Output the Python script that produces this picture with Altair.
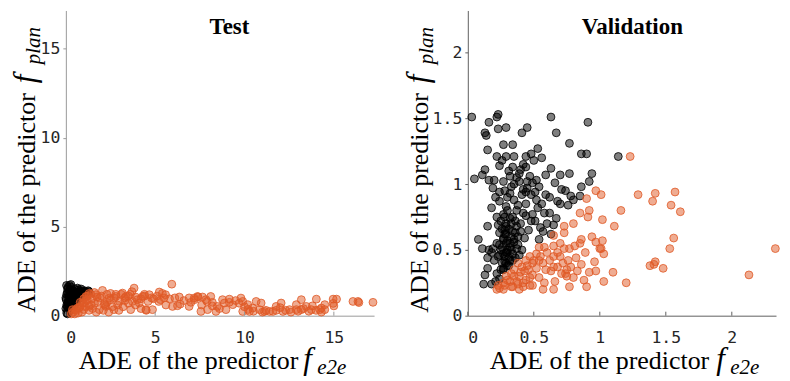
import altair as alt
import pandas as pd

# ---------------- data ----------------
# Test set: points where f_plan has the larger error (black)
test_plan_x = [0.05, 0.10, 0.20, 0.30, 0.50, 0.70, 0.90, 1.10, 0.15, 0.30, 0.50, 0.70, 0.90,
               0.05, 0.10, 0.15, 0.25, 0.35, 0.40, 0.60, 0.20, 0.05, 0.10, 0.30, 0.45, 0.60,
               0.80, 1.00, 0.02, 0.08, 0.25, 0.40, 0.60, 0.80, 0.30, 0.50, 0.20, 0.12, 0.18,
               0.35, 0.55, 0.75, 0.95, 1.15, 0.40, 0.00, 0.00, 0.04, 0.12, 0.22, 0.28, 0.65,
               0.85, 1.05, 0.10, 0.45, 0.15, 0.33, 0.07, 0.26, 1.25, 1.30]
test_plan_y = [1.20, 1.50, 1.70, 1.60, 1.50, 1.45, 1.40, 1.35, 0.90, 1.00, 1.10, 1.20, 1.25,
               0.60, 0.30, 0.50, 0.70, 0.60, 0.85, 0.90, 0.25, 0.15, 0.10, 0.45, 0.55, 0.75,
               1.00, 1.15, 0.90, 1.30, 1.30, 1.40, 1.30, 1.30, 1.20, 0.80, 0.55, 0.75, 1.10,
               0.95, 1.25, 1.35, 1.30, 1.30, 1.15, 1.00, 0.40, 1.70, 1.60, 1.45, 1.75, 1.55,
               1.50, 1.40, 0.70, 1.00, 1.25, 0.35, 0.50, 0.85, 1.40, 1.35]
# Test set: points where f_e2e has the larger error (orange)
test_e2e_x = [5.93, 3.82, 2.05, 5.23, 5.58, 6.35, 5.97, 7.00, 7.37, 7.65, 7.56, 8.20, 8.48, 9.15,
              9.80, 9.90, 10.18, 10.46, 10.84, 11.40, 11.77, 12.05, 12.52, 12.90, 13.18, 13.46,
              14.02, 14.30, 14.49, 14.96, 15.15, 16.07, 16.35, 17.19, 14.96, 10.93, 10.65, 9.34,
              8.87, 8.96, 8.40, 7.93, 6.90, 6.25, 4.85, 4.48, 3.63, 2.97, 2.69, 4.67, 4.30, 3.36,
              3.17, 2.80, 2.43, 1.68, 1.12, 0.93, 1.31, 0.65, 0.37, 1.87, 2.24, 3.73, 4.11, 9.90,
              10.28, 12.15, 13.74, 14.21, 14.49, 13.18, 12.90, 11.77, 11.12, 11.59, 9.15, 8.77,
              8.11, 7.84, 7.18, 5.30, 12.30, 12.60, 13.00, 13.30, 13.60, 14.00, 14.30, 13.80,
              12.00, 11.20, 11.00, 10.50, 10.20, 10.00, 9.70, 9.50, 8.60, 8.20, 7.90, 7.60,
              7.40, 7.20, 6.90, 6.60, 6.40, 6.10, 5.80, 5.60, 5.40, 5.10, 4.90, 4.50, 4.40,
              4.20, 3.90, 3.70, 3.50, 3.30, 3.10, 2.90, 2.70, 2.50, 2.30, 15.00, 16.40, 0.40,
              0.60, 0.80, 1.00, 1.20, 1.40, 1.60, 1.50, 1.80, 2.00, 2.20, 2.50, 2.80, 3.00,
              3.30, 3.60, 4.00, 4.40, 4.60, 0.50, 0.90, 1.30, 1.70, 2.10, 2.60, 3.20, 3.90,
              4.20, 1.10, 1.60, 1.90, 2.30, 0.70, 1.00, 1.40, 2.40, 3.50, 4.80, 5.20, 5.50,
              0.30, 0.80, 1.20, 1.30, 1.00, 0.55, 0.75, 1.15, 1.45, 1.75, 2.15]
test_e2e_y = [1.77, 1.55, 1.42, 1.33, 1.18, 1.05, 0.52, 0.75, 1.08, 1.05, 0.24, 0.75, 0.52, 0.75,
              0.99, 0.80, 0.62, 0.43, 0.34, 0.24, 0.30, 0.71, 0.34, 0.34, 0.90, 0.52, 0.93, 0.43,
              0.62, 0.93, 0.93, 0.80, 0.80, 0.75, 0.69, 0.71, 0.80, 0.62, 0.71, 0.34, 0.24, 0.34,
              0.52, 0.56, 0.34, 0.34, 0.34, 0.30, 0.34, 1.18, 1.08, 1.08, 1.27, 1.08, 0.99, 1.18,
              1.08, 0.71, 0.52, 0.43, 0.34, 0.34, 0.52, 0.80, 0.71, 0.24, 0.24, 0.24, 0.34, 0.34,
              0.34, 0.34, 0.62, 0.52, 0.24, 0.24, 0.93, 0.90, 1.08, 0.90, 0.99, 0.90, 0.30, 0.20,
              0.25, 0.40, 0.25, 0.30, 0.20, 0.55, 0.45, 0.30, 0.20, 0.25, 0.35, 0.50, 0.70, 0.85,
              0.40, 0.55, 0.80, 0.60, 1.05, 0.90, 1.00, 0.85, 0.65, 1.00, 0.95, 0.60, 1.25, 1.10,
              0.95, 0.30, 1.20, 0.95, 1.05, 1.35, 1.10, 0.85, 1.20, 0.60, 1.00, 1.25, 0.75, 0.55,
              0.74, 0.20, 0.30, 0.50, 0.70, 0.90, 1.20, 1.30, 0.40, 0.80, 1.10, 0.60, 0.90, 1.20,
              0.80, 1.00, 1.20, 0.90, 1.10, 0.80, 0.10, 0.20, 0.30, 0.20, 0.30, 0.50, 0.50, 0.60,
              0.40, 0.50, 0.70, 1.00, 1.20, 0.15, 0.35, 0.60, 0.20, 0.70, 1.00, 0.80, 1.00, 0.10,
              0.75, 1.10, 1.25, 0.95, 0.35, 0.45, 0.85, 0.95, 1.05, 0.65]

# Validation set: black (f_plan larger)
val_plan_x = [0.03, 0.05, 0.16, 0.22, 0.23, 0.29, 0.23, 0.13, 0.14, 0.41, 0.45, 0.63, 0.67, 0.91,
              0.77, 0.86, 0.90, 1.14, 0.15, 0.34, 0.27, 0.22, 0.29, 0.35, 0.53, 0.48, 0.56, 0.44,
              0.13, 0.24, 0.34, 0.40, 0.44, 0.63, 0.70, 0.77, 0.94, 0.92, 0.86, 0.59, 0.11, 0.20,
              0.27, 0.32, 0.39, 0.49, 0.54, 0.66, 0.71, 0.24, 0.32, 0.44, 0.51, 0.59, 0.78, 0.85,
              0.18, 0.24, 0.29, 0.38, 0.44, 0.52, 0.56, 0.68, 0.76, 0.22, 0.27, 0.34, 0.42, 0.49,
              0.62, 0.67, 0.15, 0.23, 0.28, 0.37, 0.46, 0.51, 0.57, 0.65, 0.24, 0.27, 0.08, 0.29,
              0.24, 0.35, 0.43, 0.54, 0.11, 0.16, 0.19, 0.25, 0.30, 0.37, 0.15, 0.23, 0.29, 0.34,
              0.39, 0.15, 0.22, 0.13, 0.25, 0.12, 0.18, 0.28, 0.30, 0.32, 0.27, 0.31, 0.33, 0.26,
              0.29, 0.36, 0.35, 0.41, 0.45, 0.37, 0.33, 0.47, 0.52, 0.40, 0.44, 0.48, 0.53, 0.58,
              0.21, 0.19, 0.16, 0.26, 0.31, 0.42, 0.50, 0.28, 0.34, 0.38, 0.22, 0.18, 0.20, 0.27,
              0.30, 0.24, 0.21, 0.60, 0.63, 0.55, 0.70, 0.74, 0.80, 0.62,
              0.26, 0.28, 0.30, 0.32, 0.27, 0.29, 0.31, 0.33, 0.25, 0.28, 0.30, 0.34, 0.36, 0.26,
              0.29, 0.32, 0.35, 0.38, 0.40, 0.31, 0.27, 0.24, 0.33, 0.37, 0.30, 0.28, 0.35, 0.39,
              0.42, 0.45, 0.48, 0.36, 0.41, 0.32, 0.29]
val_plan_y = [1.51, 1.04, 1.47, 1.51, 1.53, 1.43, 1.42, 1.39, 1.37, 1.39, 1.43, 1.51, 1.39, 1.47,
              1.31, 1.23, 1.23, 1.21, 1.26, 1.30, 1.30, 1.21, 1.21, 1.21, 1.27, 1.23, 1.20, 1.21,
              1.11, 1.14, 1.13, 1.11, 1.13, 1.12, 1.07, 1.08, 1.08, 1.02, 0.98, 1.07, 1.07, 1.03,
              1.02, 1.06, 1.02, 1.01, 0.98, 1.01, 0.96, 0.94, 0.93, 0.94, 0.94, 0.92, 0.91, 0.91,
              0.82, 0.87, 0.83, 0.84, 0.85, 0.88, 0.85, 0.87, 0.84, 0.75, 0.77, 0.75, 0.78, 0.77,
              0.78, 0.74, 0.68, 0.69, 0.65, 0.68, 0.65, 0.72, 0.64, 0.69, 0.63, 0.59, 0.58, 0.55,
              0.54, 0.58, 0.59, 0.58, 0.51, 0.50, 0.51, 0.50, 0.48, 0.51, 0.44, 0.45, 0.40, 0.42,
              0.46, 0.36, 0.32, 0.31, 0.35, 0.24, 0.24, 0.62, 0.57, 0.52, 0.47, 0.44, 0.60, 0.66,
              0.70, 0.63, 0.88, 0.92, 0.97, 1.05, 0.98, 1.06, 1.03, 0.70, 0.76, 0.72, 0.82, 0.78,
              0.90, 0.97, 1.03, 1.18, 1.10, 1.15, 1.18, 0.41, 0.47, 0.54, 0.55, 0.48, 0.42, 0.36,
              0.38, 0.28, 0.26, 0.70, 0.62, 0.67, 0.85, 0.95, 0.88, 0.90,
              0.40, 0.45, 0.50, 0.55, 0.58, 0.62, 0.66, 0.70, 0.72, 0.75, 0.80, 0.64, 0.72, 0.52,
              0.48, 0.42, 0.56, 0.60, 0.64, 0.38, 0.35, 0.46, 0.50, 0.80, 0.90, 0.95, 1.00, 1.08,
              0.96, 1.02, 0.92, 0.44, 0.50, 0.74, 0.68]
# Validation set: orange (f_e2e larger)
val_e2e_x = [1.23, 0.97, 1.01, 1.29, 1.42, 1.40, 1.57, 1.54, 1.61, 1.16, 0.90, 0.92, 0.91, 0.85,
             1.02, 1.11, 0.80, 0.73, 0.65, 0.73, 0.94, 1.02, 0.86, 0.85, 1.56, 1.53, 2.33, 2.13,
             1.48, 1.42, 1.38, 1.41, 1.20, 1.10, 1.03, 1.03, 1.01, 0.97, 0.92, 0.90, 0.88, 0.86,
             0.77, 0.80, 0.78, 0.74, 0.71, 0.72, 0.70, 0.68, 0.73, 0.77, 0.81, 0.65, 0.58, 0.54,
             0.65, 0.65, 0.63, 0.66, 0.65, 0.57, 0.58, 0.54, 0.49, 0.49, 0.47, 0.44, 0.46, 0.49,
             0.47, 0.52, 0.54, 0.44, 0.41, 0.38, 0.35, 0.39, 0.42, 0.39, 0.34, 0.32, 0.29, 0.27,
             0.24, 0.22, 0.27, 0.23, 0.33, 0.43, 0.37, 0.96, 0.83, 0.97, 1.00, 0.89, 0.82, 0.76,
             0.75, 0.68, 0.59, 0.57,
             0.30, 0.35, 0.40, 0.45, 0.50, 0.55, 0.60, 0.42, 0.47, 0.52, 0.38, 0.33, 0.28, 0.62,
             0.70, 0.75]
val_e2e_y = [1.21, 0.95, 0.92, 0.92, 0.93, 0.87, 0.94, 0.84, 0.79, 0.80, 0.89, 0.80, 0.75, 0.78,
             0.73, 0.68, 0.70, 0.68, 0.61, 0.63, 0.60, 0.57, 0.58, 0.55, 0.59, 0.51, 0.51, 0.31,
             0.36, 0.41, 0.38, 0.39, 0.25, 0.33, 0.26, 0.47, 0.51, 0.34, 0.33, 0.22, 0.27, 0.39,
             0.22, 0.29, 0.37, 0.32, 0.32, 0.40, 0.45, 0.48, 0.51, 0.51, 0.53, 0.53, 0.52, 0.52,
             0.45, 0.37, 0.34, 0.26, 0.20, 0.20, 0.25, 0.29, 0.31, 0.23, 0.23, 0.27, 0.35, 0.40,
             0.45, 0.47, 0.42, 0.42, 0.37, 0.40, 0.35, 0.30, 0.22, 0.20, 0.22, 0.26, 0.30, 0.25,
             0.21, 0.20, 0.20, 0.23, 0.32, 0.34, 0.26, 0.41, 0.34, 0.56, 0.51, 0.48, 0.44, 0.42,
             0.35, 0.37, 0.35, 0.40,
             0.27, 0.30, 0.33, 0.38, 0.42, 0.45, 0.48, 0.25, 0.29, 0.36, 0.24, 0.22, 0.23, 0.42,
             0.55, 0.30]

panel_titles = ["Test", "Validation"]
axis_text = "ADE of the predictor"
sym = "f"
x_sub = "e2e"
y_sub = "plan"
test_ticks = [0, 5, 10, 15]
val_ticks = [0, 0.5, 1, 1.5, 2]
test_max = [17.25, 17.15]
val_max = [2.335, 2.32]

ORANGE = "#E05A26"
SERIF = "Liberation Serif"
MONO = "DejaVu Sans Mono"
W, H = 309, 306


def make_df(px, py, ex, ey):
    a = pd.DataFrame({"x": px, "y": py, "s": "plan"})
    b = pd.DataFrame({"x": ex, "y": ey, "s": "e2e"})
    return pd.concat([a, b], ignore_index=True)


def panel(df, xmax, ymax, ticks, title, tpos, xt, yt, axis_color):
    xs = alt.Scale(domain=[0, xmax], nice=False)
    ys = alt.Scale(domain=[0, ymax], nice=False)
    cs = alt.Scale(domain=["plan", "e2e"], range=["#000000", ORANGE])
    pts = alt.Chart(df).mark_circle(size=62, fillOpacity=0.5, strokeOpacity=0.9, strokeWidth=0.9).encode(
        x=alt.X("x:Q", scale=xs, axis=alt.Axis(values=ticks, title=None, ticks=False, format="~g",
                                               domainColor=axis_color, labelPadding=14)),
        y=alt.Y("y:Q", scale=ys, axis=alt.Axis(values=ticks, title=None, tickSize=3, format="~g",
                                               domainColor=axis_color, tickColor=axis_color,
                                               labelPadding=3)),
        fill=alt.Fill("s:N", scale=cs, legend=None),
        stroke=alt.Stroke("s:N", scale=cs, legend=None),
    )
    tdf = pd.DataFrame({"t": ticks})
    tk = alt.Chart(tdf).mark_rule(color=axis_color, strokeWidth=1).encode(
        x=alt.X("t:Q", scale=xs), y=alt.value(H), y2=alt.value(H - 4)
    )
    one = pd.DataFrame({"a": [0]})
    ttl = alt.Chart(one).mark_text(text=title, font=SERIF, fontSize=23, fontWeight="bold",
                                   baseline="alphabetic", align="center", color="black").encode(
        x=alt.value(tpos[0]), y=alt.value(tpos[1]))
    # x axis title
    xa = alt.Chart(one).mark_text(text=axis_text, font=SERIF, fontSize=26, baseline="alphabetic",
                                  align="center", color="black").encode(x=alt.value(xt[0]), y=alt.value(xt[1]))
    xf = alt.Chart(one).mark_text(text=sym, font=SERIF, fontSize=31, fontStyle="italic",
                                  baseline="alphabetic", align="left", color="black").encode(
        x=alt.value(xt[2]), y=alt.value(xt[1]))
    xsb = alt.Chart(one).mark_text(text=x_sub, font=SERIF, fontSize=21, fontStyle="italic",
                                   baseline="alphabetic", align="left", color="black").encode(
        x=alt.value(xt[3]), y=alt.value(xt[1] + 5))
    # y axis title (rotated)
    ya = alt.Chart(one).mark_text(text=axis_text, font=SERIF, fontSize=26, baseline="alphabetic",
                                  align="center", angle=270, color="black").encode(
        x=alt.value(yt[0]), y=alt.value(yt[1]))
    yf = alt.Chart(one).mark_text(text=sym, font=SERIF, fontSize=31, fontStyle="italic",
                                  baseline="alphabetic", align="left", angle=270, color="black").encode(
        x=alt.value(yt[0]), y=alt.value(yt[2]))
    ysb = alt.Chart(one).mark_text(text=y_sub, font=SERIF, fontSize=21, fontStyle="italic",
                                   baseline="alphabetic", align="left", angle=270, color="black").encode(
        x=alt.value(yt[0] + 5), y=alt.value(yt[3]))
    return alt.layer(pts, tk, ttl, xa, xf, xsb, ya, yf, ysb).properties(width=W, height=H)


left = panel(make_df(test_plan_x, test_plan_y, test_e2e_x, test_e2e_y), test_max[0], test_max[1],
             test_ticks, panel_titles[0], (164, 24), (123, 359, 238, 252), (-31, 193, 73, 54), "#9a9a9a")
right = panel(make_df(val_plan_x, val_plan_y, val_e2e_x, val_e2e_y), val_max[0], val_max[1],
              val_ticks, panel_titles[1], (165, 24), (132, 359, 249, 263), (-40, 193, 73, 54), "#606060")

chart = alt.hconcat(left, right, spacing=24).properties(
    padding={"left": 2, "top": 2, "right": 0, "bottom": 0}
).configure_view(stroke=None).configure_axis(
    labelFont=MONO, labelFontSize=16.5, labelColor="#262626", domainWidth=1, grid=False
)

chart.save("out.html", embed_options={"renderer": "svg", "actions": False})
